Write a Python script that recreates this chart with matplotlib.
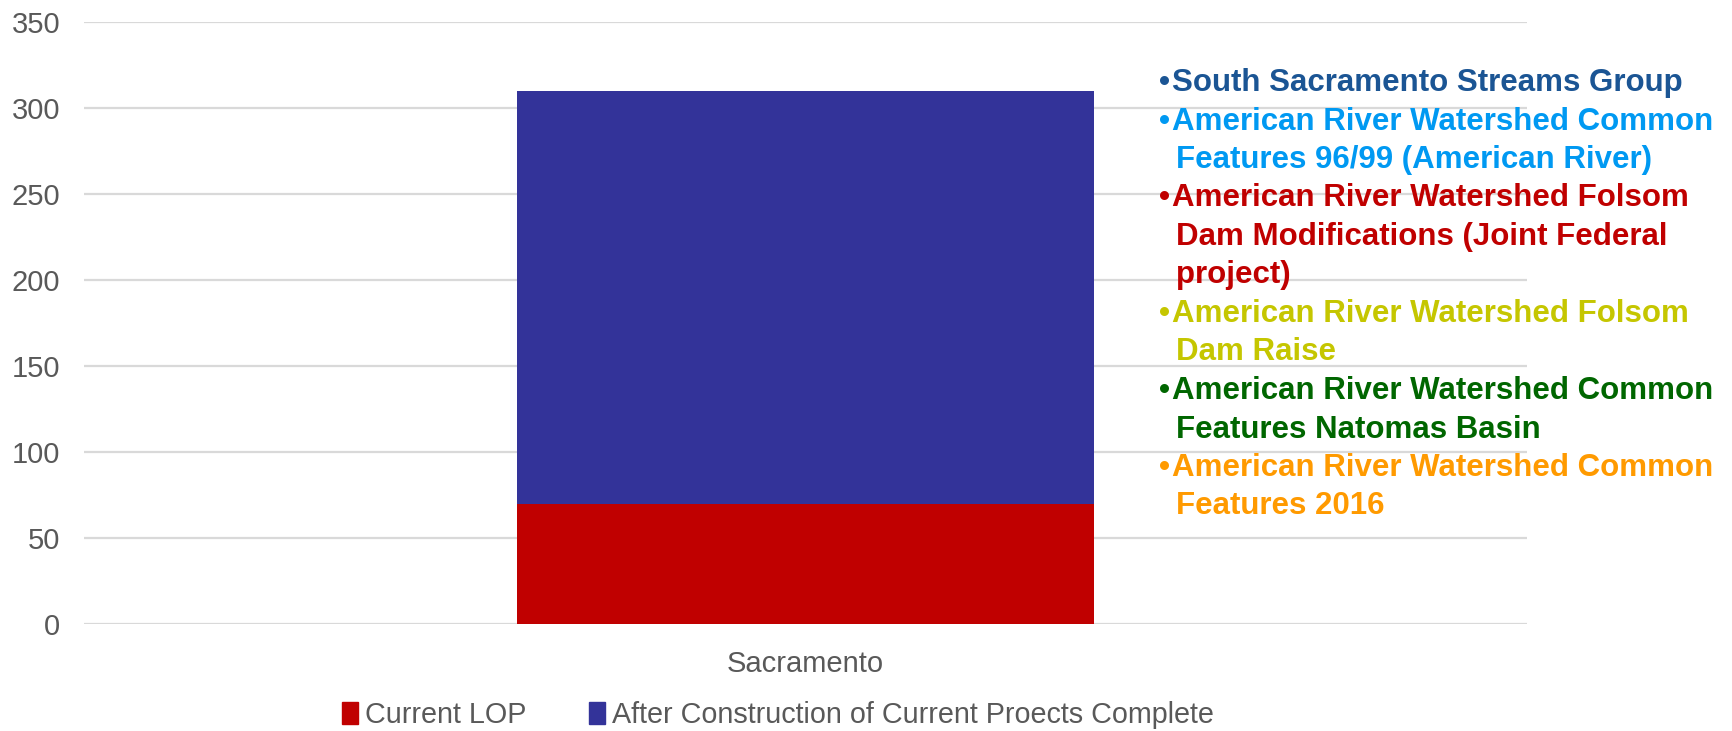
import matplotlib
matplotlib.use("Agg")
import matplotlib.pyplot as plt
from matplotlib.patches import Patch

plt.rcParams['font.family'] = ['Liberation Sans', 'DejaVu Sans']

categories = ["Sacramento"]
current_lop = [70]
after_construction = [310]
series_names = ["Current LOP", "After Construction of Current Proects Complete"]
yticks = [0, 50, 100, 150, 200, 250, 300, 350]

projects = [
    (["South Sacramento Streams Group"], "#1B5594"),
    (["American River Watershed Common", "Features 96/99 (American River)"], "#0099F2"),
    (["American River Watershed Folsom", "Dam Modifications (Joint Federal", "project)"], "#C00000"),
    (["American River Watershed Folsom", "Dam Raise"], "#C5C600"),
    (["American River Watershed Common", "Features Natomas Basin"], "#006600"),
    (["American River Watershed Common", "Features 2016"], "#FF9A00"),
]

W, H = 1733, 731
fig = plt.figure(figsize=(W / 100, H / 100), dpi=100)
ax = fig.add_axes([84 / W, 1 - 624 / H, (1527 - 84) / W, (624 - 22) / H])

x = list(range(len(categories)))
ax.bar(x, after_construction, width=0.4, color="#333399", zorder=2)
ax.bar(x, current_lop, width=0.4, color="#C00000", zorder=3)

ax.set_xlim(-0.5, 0.5)
ax.set_ylim(0, 350)
ax.set_yticks(yticks)
ax.set_yticklabels([str(v) for v in yticks])
ax.set_xticks(x)
ax.set_xticklabels(categories)
ax.tick_params(axis='both', length=0, labelsize=21, labelcolor="#595959")
ax.tick_params(axis='y', pad=17)
ax.tick_params(axis='x', pad=19)
ax.grid(axis='y', color="#D9D9D9", linewidth=1.6, zorder=0)
ax.set_axisbelow(True)
for s in ax.spines.values():
    s.set_visible(False)

handles = [Patch(color="#C00000"), Patch(color="#333399")]
fig.legend(handles, series_names, loc="center", bbox_to_anchor=(778 / W, 1 - 715 / H),
           ncol=2, frameon=False, fontsize=20.7, labelcolor="#595959",
           handlelength=0.55, handleheight=0.75, handletextpad=0.25, columnspacing=2.2)

# project text block
y0 = 83
dy = 38.5
line = 0
for lines, color in projects:
    for i, t in enumerate(lines):
        ypix = y0 + line * dy
        yf = 1 - ypix / H
        if i == 0:
            fig.text(1159 / W, yf, "•", color=color, fontsize=22.5, fontweight="bold",
                     va="center", ha="left")
            fig.text(1172 / W, yf, t, color=color, fontsize=22.5, fontweight="bold",
                     va="center", ha="left")
        else:
            fig.text(1176 / W, yf, t, color=color, fontsize=22.5, fontweight="bold",
                     va="center", ha="left")
        line += 1

fig.savefig("out.png", dpi=100)
